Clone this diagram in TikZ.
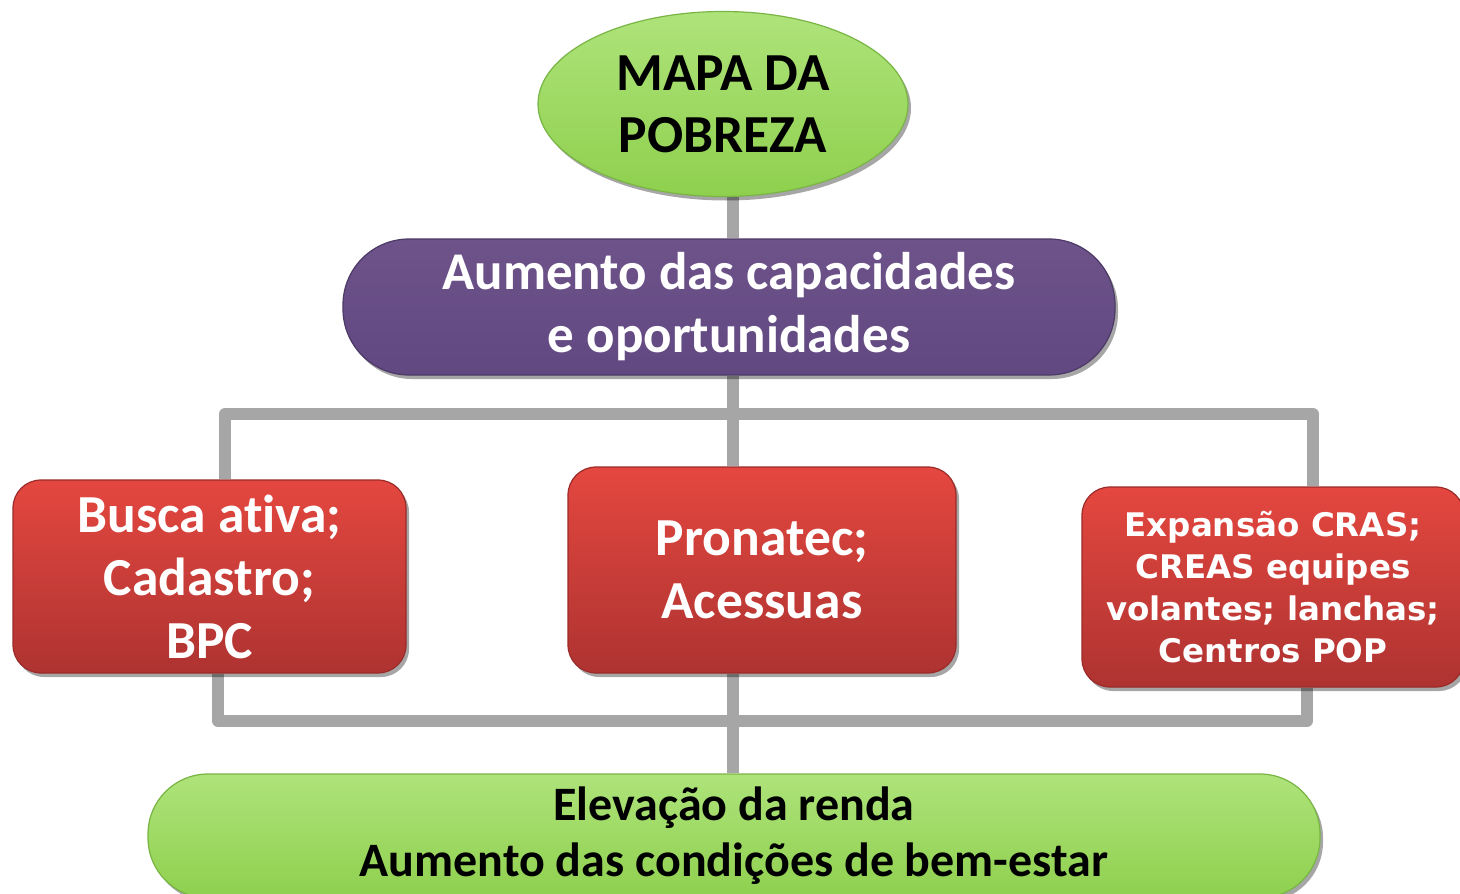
\documentclass[tikz,border=0pt]{standalone}
\usepackage{fontspec}
\setmainfont[Ligatures=NoCommon]{Carlito}
\newfontfamily\verd{DejaVu Sans}
\usetikzlibrary{shapes.geometric,shadows,backgrounds}
\definecolor{gtop}{HTML}{AEE37A}
\definecolor{gbot}{HTML}{8FD04E}
\definecolor{gline}{HTML}{79B545}
\definecolor{ptop}{HTML}{6D5389}
\definecolor{pbot}{HTML}{614881}
\definecolor{pline}{HTML}{4D3A66}
\definecolor{rtop}{HTML}{E4473F}
\definecolor{rbot}{HTML}{AE3331}
\definecolor{rline}{HTML}{9A2B29}
\definecolor{conncol}{HTML}{A6A6A6}
\tikzset{
  shad/.style={drop shadow={shadow xshift=3pt,shadow yshift=-4pt,opacity=0.35,fill=black}},
  greenfill/.style={top color=gtop,bottom color=gbot,draw=gline,line width=1.2pt},
  redbox/.style={shad,rectangle,rounded corners=28pt,top color=rtop,bottom color=rbot,draw=rline,line width=1.2pt,
     text=white,align=center,inner sep=0pt,font=\bfseries\fontsize{53.5}{63}\selectfont},
  conn/.style={draw=conncol,line width=12pt,line join=round,line cap=butt},
}
\begin{document}
\begin{tikzpicture}[x=1pt,y=-1pt]
\useasboundingbox (0,0) rectangle (1460,894);
\clip (0,0) rectangle (1460,894);
% nodes
\node[shad,ellipse,greenfill,minimum width=370pt,minimum height=185pt,inner sep=0pt,align=center,
  font=\bfseries\fontsize{53.5}{62}\selectfont] (map) at (723,104) {MAPA DA\\POBREZA};
\node[shad,rectangle,rounded corners=66pt,top color=ptop,bottom color=pbot,draw=pline,line width=1.2pt,
  minimum width=772pt,minimum height=136pt,inner sep=0pt,text=white,align=center,
  font=\bfseries\fontsize{53}{63}\selectfont] (cap) at (729,307) {Aumento das capacidades\\e oportunidades};
\node[redbox,minimum width=393pt,minimum height=193pt] (b1) at (209.5,576.5) {Busca ativa;\\Cadastro;\\BPC};
\node[redbox,minimum width=388pt,minimum height=206pt] (b2) at (762,570) {Pronatec;\\Acessuas};
\node[redbox,minimum width=382pt,minimum height=200pt,font=\verd\bfseries\fontsize{32.5}{42}\selectfont] (b3) at (1273,587)
  {Expansão CRAS;\\CREAS equipes\\volantes; lanchas;\\Centros POP};
\node[shad,rectangle,rounded corners=60pt,greenfill,minimum width=1172pt,minimum height=124pt,inner sep=0pt,
  align=center,font=\bfseries\fontsize{48}{56}\selectfont] (res) at (734,836)
  {Elevação da renda\\Aumento das condições de bem-estar};
\coordinate (tl) at (225,414);
\coordinate (tr) at (1313,414);
\coordinate (bl) at (218,721);
\coordinate (br) at (1307,721);
\begin{scope}[on background layer]
\fill[white] (0,0) rectangle (1460,894);
\draw[conn] (map.south -| 733,0) -- (733,0 |- cap.north);
\draw[conn] (cap.south -| 733,0) -- (733,0 |- b2.north);
\draw[conn] (b1.north -| tl) -- (tl) -- (tr) -- (tr |- b3.north);
\draw[conn] (b1.south -| bl) -- (bl) -- (br) -- (br |- b3.south);
\draw[conn] (b2.south -| 733,0) -- (733,0 |- res.north);
\end{scope}
\end{tikzpicture}
\end{document}
